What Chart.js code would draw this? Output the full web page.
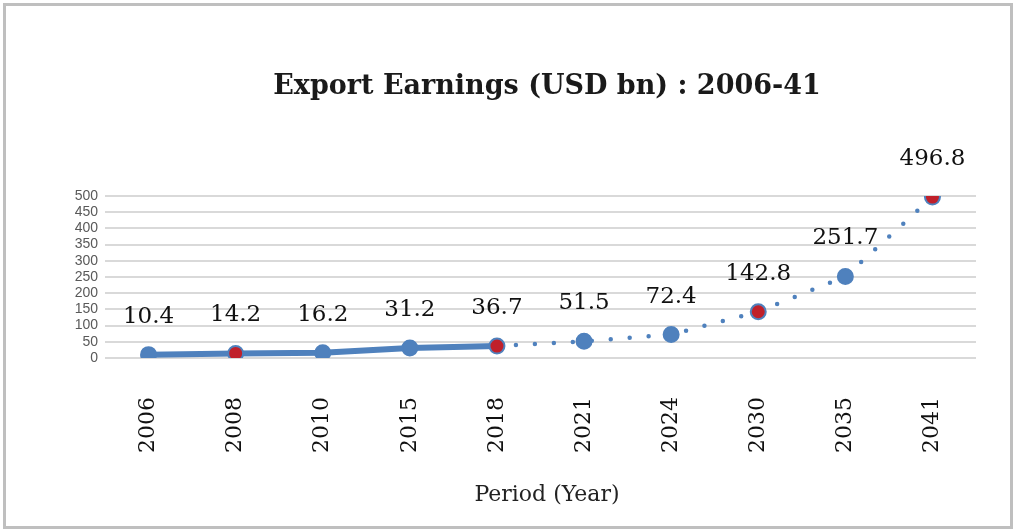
<!DOCTYPE html>
<html>
<head>
    <script src="https://cdn.jsdelivr.net/npm/chart.js@4.4.1/dist/chart.umd.min.js"></script>
    <style>
        body{
            margin: 0;
            background: #ffffff;
        }
        #frame{
            position: absolute;
            left: 3px;
            top: 3px;
            width: 1004px;
            height: 520px;
            border: 3px solid #bfbfbf;
        }
        #chart-div{
            position: absolute;
            left: 0;
            top: 0;
            width: 1015px;
            height: 532px;
        }
    </style>
</head>
<body>
<div id="frame"></div>
<div id="chart-div">
    <canvas id="chart" width="1015" height="532"></canvas>
</div>
<script>
// data
const years = ['2006', '2008', '2010', '2015', '2018', '2021', '2024', '2030', '2035', '2041'];
const earnings = [10.4, 14.2, 16.2, 31.2, 36.7, 51.5, 72.4, 142.8, 251.7, 496.8];
const yTicks = [0, 50, 100, 150, 200, 250, 300, 350, 400, 450, 500];
const redYears = ['2008', '2018', '2030', '2041'];
const lastActual = '2018';
const chartTitle = 'Export Earnings (USD bn) : 2006-41';
const xTitle = 'Period (Year)';

const blue = '#4f81bd';
const red = '#c0202a';
const serif = 'DejaVu Serif, serif';
const cutIdx = years.indexOf(lastActual);

// titles and value labels
const extraText = {
    id: 'extraText',
    afterDatasetsDraw(chart) {
        const ctx = chart.ctx;
        const meta = chart.getDatasetMeta(0);
        ctx.save();
        ctx.textAlign = 'center';
        ctx.textBaseline = 'middle';
        ctx.fillStyle = '#1a1a1a';
        ctx.font = 'bold 27px ' + serif;
        ctx.fillText(chartTitle, 547, 87);
        ctx.fillStyle = '#222222';
        ctx.font = '22px ' + serif;
        ctx.fillText(xTitle, 547, 495);
        ctx.font = '23px ' + serif;
        ctx.fillStyle = '#111111';
        meta.data.forEach((pt, i) => {
            ctx.fillText(earnings[i].toFixed(1), pt.x, pt.y - 38);
        });
        ctx.restore();
    }
};

const ctx = document.getElementById('chart').getContext('2d');
const myChart = new Chart(ctx, {
    type: 'line',
    data: {
        labels: years,
        datasets: [{
            label: 'Export Earnings',
            data: earnings,
            borderColor: blue,
            borderWidth: 6,
            borderCapStyle: 'round',
            borderJoinStyle: 'round',
            tension: 0,
            fill: false,
            pointRadius: 7.5,
            pointBorderWidth: 2,
            pointBorderColor: blue,
            pointBackgroundColor: years.map(y => redYears.includes(y) ? red : blue),
            segment: {
                borderDash: c => c.p0DataIndex >= cutIdx ? [0, 19] : undefined,
                borderWidth: c => c.p0DataIndex >= cutIdx ? 4.5 : 6
            }
        }]
    },
    options: {
        responsive: false,
        animation: false,
        layout: {
            padding: {left: 10, right: 39, top: 196, bottom: 22}
        },
        plugins: {
            legend: {display: false},
            tooltip: {enabled: false},
            title: {display: false}
        },
        scales: {
            x: {
                offset: true,
                grid: {display: false, drawTicks: false},
                border: {display: false},
                ticks: {
                    minRotation: 90,
                    maxRotation: 90,
                    padding: 39,
                    color: '#111111',
                    font: {family: serif, size: 22}
                },
                afterFit(scale) { scale.height = 152; }
            },
            y: {
                min: 0,
                max: 500,
                afterBuildTicks(scale) { scale.ticks = yTicks.map(v => ({value: v})); },
                grid: {color: '#d9d9d9', lineWidth: 2, drawTicks: false},
                border: {display: false},
                ticks: {
                    autoSkip: false,
                    padding: 7,
                    color: '#595959',
                    font: {family: 'Liberation Sans, Arial, sans-serif', size: 14}
                },
                afterFit(scale) { scale.width = 95; }
            }
        }
    },
    plugins: [extraText]
});
</script>
</body>
</html>
